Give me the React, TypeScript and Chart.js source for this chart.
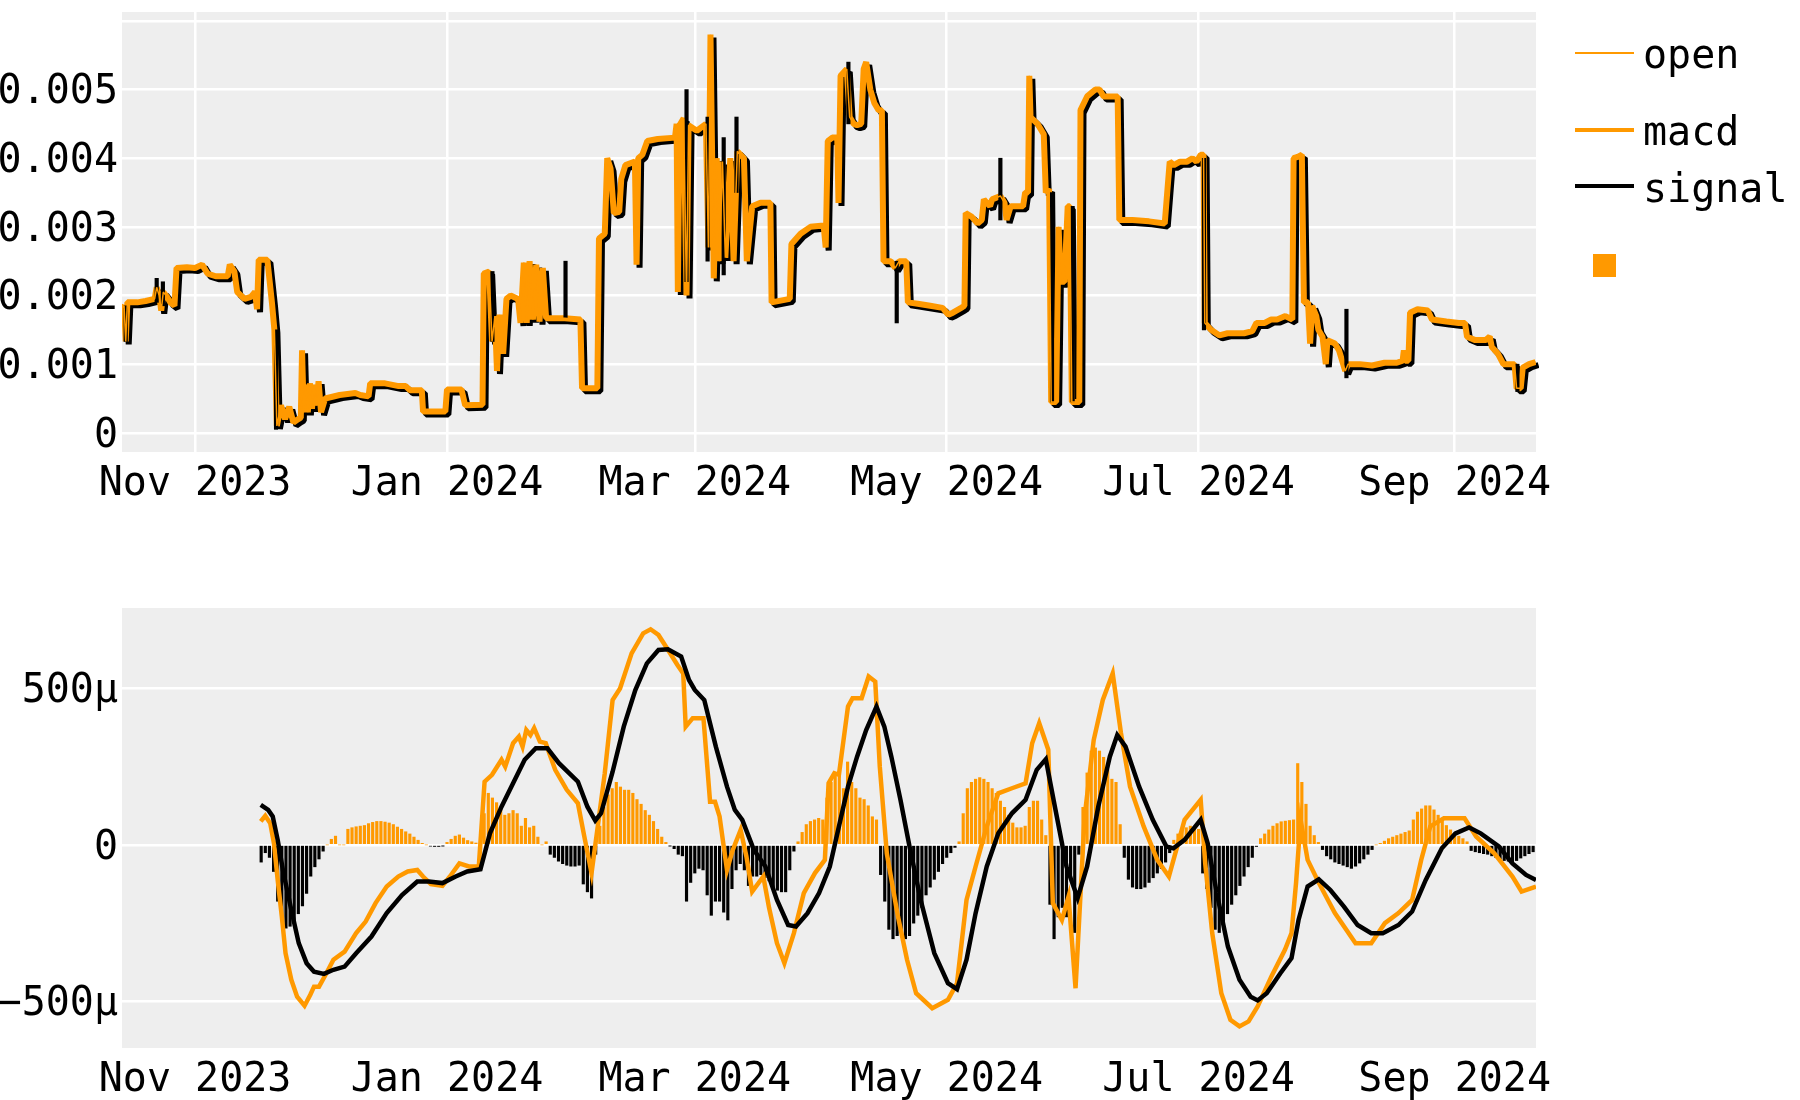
import React, { useEffect, useRef } from 'react';
import { Chart, registerables } from 'chart.js';
Chart.register(...registerables);

const FONT = "'DejaVu Sans Mono', monospace";
const ORANGE = '#ff9900';
const BLACK = '#000000';
const PLOT_BG = '#eeeeee';

// x axis: days since 2023-11-01
const xMin = -17.7;
const xMax = 324.7;
const monthTickDays = [0, 61, 121, 182, 243, 305];
const monthTickLabels = ['Nov 2023', 'Jan 2024', 'Mar 2024', 'May 2024', 'Jul 2024', 'Sep 2024'];

const priceYTicks = [0, 0.001, 0.002, 0.003, 0.004, 0.005, 0.006];
const priceYLabels = ['0', '0.001', '0.002', '0.003', '0.004', '0.005', ''];
const macdYTicks = [-500, 0, 500];
const macdYLabels = ['\u2212500\u00b5', '0', '500\u00b5'];

// ---- top panel: price path (day, value)
const priceDay = [
  -17.7, -17.2, -16.8, -16.4, -14.0, -12.0, -9.8, -9.3, -8.7, -8.2, -7.7, -6.8, -6.0, -5.0, -4.5, -2.0,
  0.0, 1.7, 3.0, 5.0, 7.9, 8.4, 9.5, 10.2, 12.0, 13.5, 14.5, 15.0, 15.4, 17.5, 18.6, 19.2, 19.8, 20.8,
  21.8, 22.8, 23.8, 25.0, 25.6, 25.9, 26.3, 26.8, 27.3, 27.8, 28.3, 28.8, 29.3, 29.9, 30.5, 31.5, 35.0,
  38.8, 40.0, 42.0, 42.4, 46.0, 49.3, 51.0, 52.0, 54.9, 55.2, 60.6, 61.0, 64.5, 65.4, 69.6,
  69.9, 71.2, 71.9, 72.6, 73.1, 73.7, 74.6, 75.4, 76.4, 78.2, 78.8, 79.6, 80.3, 81.0, 81.8, 82.6, 83.4,
  84.2, 85.0, 89.5, 93.3, 93.7, 97.4, 97.8, 99.2, 99.8, 100.6, 101.4, 102.7, 103.2, 104.2, 106.5, 106.9,
  107.3, 108.3, 109.5, 112.0, 116.2, 116.6, 116.9, 117.3, 118.3, 119.0, 119.5, 121.5, 123.7, 124.3,
  124.8, 125.6, 126.3, 127.0, 127.7, 128.4, 129.6, 130.4, 131.3, 132.9, 133.6, 134.9, 136.9, 139.3,
  139.6, 144.0, 144.4, 146.6, 149.0, 152.2, 152.7, 153.2, 154.3,
  155.5, 155.8, 156.3, 157.8, 158.5, 159.5, 160.3, 161.3, 161.9, 162.5, 163.5, 164.5, 165.5, 166.3,
  166.7, 168.5, 169.5, 170.5, 171.5, 172.2, 172.6, 175.0, 178.0, 181.0, 182.4, 183.5, 185.5, 186.3,
  186.6, 188.0, 189.5, 190.5, 191.0, 192.5, 193.0, 195.0, 196.0, 196.5, 197.5, 199.0, 200.5, 201.0,
  201.7, 202.0, 202.3, 204.0, 205.5, 206.0, 206.8, 207.3, 208.5, 209.1, 209.6, 210.5, 211.3, 211.8,
  212.3, 214.1, 214.4, 216.0, 218.0, 219.0, 220.0, 223.4, 223.8, 227.0, 231.0, 234.8, 235.4, 236.0,
  237.0, 238.5, 240.2,
  241.5, 242.5, 243.5, 244.2, 244.5, 246.0, 248.0, 250.0, 254.0, 256.0, 257.0, 259.0, 260.5, 262.0,
  264.0, 265.7, 266.0, 267.0, 268.0, 268.5, 269.5, 270.0, 270.5, 271.5, 272.0, 273.0, 273.8, 274.2,
  276.0, 277.0, 278.5, 279.2, 282.0, 285.0, 288.0, 291.0, 292.4, 292.7, 293.0, 293.8, 294.2, 296.0,
  298.5, 299.5, 303.0, 306.0, 307.5, 308.0, 310.0, 312.5, 313.5, 314.0, 315.5, 316.8, 319.5, 320.0,
  321.0, 321.5, 323.0, 324.6,
];
const priceVal = [
  0.00182, 0.00185, 0.00133, 0.00190, 0.00190, 0.00192, 0.00195, 0.00212, 0.00200, 0.00178, 0.00205, 0.00198, 0.00190, 0.00185, 0.00240, 0.00241,
  0.00240, 0.00245, 0.00232, 0.00228, 0.00228, 0.00245, 0.00235, 0.00205, 0.00195, 0.00198, 0.00205, 0.00180, 0.00252, 0.00252, 0.00190, 0.00150, 0.00010, 0.00040,
  0.00020, 0.00038, 0.00015, 0.00020, 0.00022, 0.00120, 0.00030, 0.00070, 0.00030, 0.00072, 0.00035, 0.00070, 0.00040, 0.00075, 0.00030, 0.00050, 0.00055,
  0.00058, 0.00055, 0.00053, 0.00072, 0.00072, 0.00068, 0.00068, 0.00062, 0.00062, 0.00031, 0.00031, 0.00063, 0.00063, 0.00040, 0.00041,
  0.00232, 0.00235, 0.00133, 0.00170, 0.00090, 0.00172, 0.00115, 0.00195, 0.00200, 0.00195, 0.00160, 0.00248, 0.00160, 0.00250, 0.00165, 0.00245, 0.00162,
  0.00240, 0.00167, 0.00167, 0.00165, 0.00065, 0.00065, 0.00283, 0.00290, 0.00400, 0.00385, 0.00320, 0.00322, 0.00370, 0.00390, 0.00395, 0.00245,
  0.00400, 0.00405, 0.00425, 0.00428, 0.00430, 0.00450, 0.00205, 0.00448, 0.00458, 0.00200, 0.00448, 0.00440, 0.00450, 0.00270,
  0.00580, 0.00225, 0.00400, 0.00250, 0.00395, 0.00255, 0.00400, 0.00250, 0.00410, 0.00400, 0.00250, 0.00330, 0.00335, 0.00335,
  0.00190, 0.00195, 0.00275, 0.00290, 0.00300, 0.00302, 0.00270, 0.00425, 0.00430,
  0.00430, 0.00335, 0.00520, 0.00530, 0.00460, 0.00450, 0.00448, 0.00450, 0.00530, 0.00540, 0.00500, 0.00480, 0.00470, 0.00470,
  0.00250, 0.00250, 0.00240, 0.00250, 0.00250, 0.00250, 0.00190, 0.00188, 0.00185, 0.00182, 0.00172, 0.00175, 0.00182, 0.00185,
  0.00320, 0.00315, 0.00305, 0.00310, 0.00340, 0.00330, 0.00340, 0.00345, 0.00335, 0.00310, 0.00330, 0.00330, 0.00330, 0.00350,
  0.00350, 0.00520, 0.00460, 0.00450, 0.00435, 0.00350, 0.00355, 0.00045, 0.00045, 0.00300, 0.00220, 0.00220, 0.00330, 0.00330,
  0.00045, 0.00045, 0.00470, 0.00490, 0.00500, 0.00500, 0.00490, 0.00490, 0.00310, 0.00310, 0.00308, 0.00305, 0.00350, 0.00395,
  0.00390, 0.00395, 0.00395,
  0.00400, 0.00395, 0.00405, 0.00405, 0.00160, 0.00150, 0.00142, 0.00145, 0.00145, 0.00148, 0.00160, 0.00160, 0.00165, 0.00165,
  0.00170, 0.00165, 0.00400, 0.00402, 0.00405, 0.00190, 0.00190, 0.00130, 0.00185, 0.00170, 0.00150, 0.00140, 0.00100, 0.00135,
  0.00130, 0.00120, 0.00090, 0.00100, 0.00100, 0.00098, 0.00102, 0.00102, 0.00105, 0.00120, 0.00105, 0.00105, 0.00175, 0.00180,
  0.00178, 0.00165, 0.00162, 0.00160, 0.00160, 0.00140, 0.00135, 0.00135, 0.00140, 0.00125, 0.00115, 0.00100, 0.00100, 0.00065,
  0.00065, 0.00095, 0.00100, 0.00103,
];

// black wicks (day, low, high)
const wickDay = [-16.8, -9.3, -7.8, 19.6, 72.0, 89.7, 119.0, 124.1, 128.0, 131.1, 158.2, 169.9, 195.0, 207.5, 212.5, 244.3, 278.8, 320.2];
const wickLow = [0.00133, 0.00190, 0.00185, 0.00005, 0.00133, 0.00167, 0.00220, 0.00250, 0.00230, 0.00350, 0.00450, 0.00160, 0.00310, 0.00045, 0.00045, 0.00150, 0.00080, 0.00060];
const wickHigh = [0.00185, 0.00225, 0.00220, 0.00150, 0.00235, 0.00250, 0.00500, 0.00460, 0.00430, 0.00460, 0.00540, 0.00250, 0.00400, 0.00350, 0.00330, 0.00400, 0.00180, 0.00100];

// ---- bottom panel (values in micro units)
const macdDay = [
  15.9, 17.0, 18.2, 19.1, 20.0, 21.0, 21.9, 23.3, 24.7, 26.5, 27.9, 28.8, 30.0, 31.6, 33.5, 36.2, 39.0, 41.3,
  43.7, 46.4, 49.2, 51.5, 53.8, 55.2, 57.1, 59.9, 61.7, 64.0, 66.3, 68.7, 70.1, 71.9, 74.2, 75.1, 77.0, 78.4,
  79.3, 80.2, 81.2, 82.1, 83.5, 84.9, 87.2, 90.0, 92.7, 94.1, 96.0, 97.4, 99.2, 101.1, 102.9, 105.7, 108.5,
  110.3, 112.2, 114.0, 116.8, 118.2, 118.8, 120.5, 123.1, 124.7, 125.9, 127.0, 128.8, 130.2, 132.1, 133.5,
  134.9, 137.6, 139.0, 140.9, 142.7, 145.0, 147.4, 150.1, 152.5, 153.4, 154.8, 155.9, 158.1, 159.2, 161.4,
  163.1, 164.7, 165.8, 167.5, 170.2, 172.4, 174.6, 178.5, 182.3, 184.5, 186.8, 189.0, 191.7, 194.5, 197.8,
  201.1, 202.7, 204.4, 206.6, 207.7, 209.9, 211.5, 213.2, 215.4, 217.6, 219.8, 222.2, 224.2, 226.4, 229.7,
  233.0, 235.8, 239.6, 243.5, 244.6, 246.3, 248.5, 250.7, 252.9, 255.1, 257.3, 260.6, 263.9, 265.5, 266.6,
  267.7, 269.4, 272.1, 276.0, 281.0, 284.8, 288.1, 291.4, 294.7, 296.9, 299.1, 302.4, 307.4, 310.2, 314.6,
  319.0, 321.2, 324.7,
];
const macdVal = [
  75, 93, 69, 5, -112, -229, -346, -431, -485, -514, -479, -453, -453, -415, -367, -341, -282, -245,
  -186, -133, -101, -85, -80, -101, -125, -131, -101, -59, -69, -69, 202, 224, 272, 250, 325, 346,
  314, 367, 351, 373, 330, 325, 240, 176, 133, 37, -90, 48, 229, 463, 500, 612, 676,
  689, 671, 634, 575, 548, 378, 405, 405, 138, 138, 91, -80, -16, 48, -37,
  -149, -101, -202, -314, -378, -282, -154, -90, -48, 197, 229, 224, 442, 469, 469,
  538, 522, 250, -27, -229, -367, -474, -522, -495, -442, -176, -69, 59, 165, 181,
  197, 325, 389, 304, -186, -240, -165, -458, 91, 335, 463, 548, 357, 186, 59,
  -48, -101, 80, 144, -59, -282, -474, -559, -580, -564, -516, -421, -335, -282, -121,
  80, -48, -121, -218, -314, -314, -250, -218, -176, -48, 59, 85, 85, 27, -27,
  -101, -149, -133,
];
const signalDay = [
  15.9, 17.7, 18.8, 20.0, 21.4, 23.3, 25.1, 27.0, 28.8, 31.2, 33.5, 36.2, 39.0, 42.7, 46.4, 50.1, 53.8, 56.6,
  59.9, 63.1, 65.9, 69.1, 71.4, 74.2, 77.0, 79.8, 82.5, 85.3, 88.1, 92.7, 95.0, 96.9, 98.3, 101.1, 103.8,
  106.6, 109.4, 112.2, 114.5, 117.7, 119.6, 121.0, 123.3, 126.1, 128.8, 130.7, 132.5, 135.3, 138.1, 140.9,
  143.6, 145.5, 148.3, 151.1, 153.7, 155.9, 158.1, 160.3, 162.5, 165.0, 166.9, 168.6, 170.8, 173.0, 175.7,
  179.0, 182.3, 184.5, 186.8, 189.0, 191.7, 194.5, 197.8, 201.1, 203.8, 206.0, 208.2, 211.0, 213.7, 216.0,
  218.7, 221.5, 223.3, 225.3, 228.6, 231.9, 235.2, 236.9, 239.6, 243.5, 245.2, 247.4, 250.1, 252.9, 255.6,
  257.3, 259.5, 262.8, 265.5, 267.2, 269.4, 272.1, 274.9, 278.2, 281.5, 284.8, 287.6, 291.4, 294.7, 298.0,
  301.9, 305.2, 308.5, 311.3, 315.7, 319.0, 322.3, 324.7,
];
const signalVal = [
  128, 112, 91, 16, -90, -208, -314, -378, -405, -412, -399, -389, -346, -293, -218, -160, -117, -117,
  -122, -101, -85, -78, 37, 122, 197, 272, 309, 309, 261, 202, 122, 78, 101, 234, 378,
  495, 580, 623, 625, 602, 527, 495, 463, 314, 186, 112, 80, -16, -69, -176,
  -256, -261, -218, -154, -69, 59, 186, 282, 367, 442, 378, 282, 144, -5, -176,
  -346, -442, -461, -367, -218, -69, 37, 101, 144, 240, 274, 122, -69, -170, -69,
  122, 282, 351, 314, 186, 80, -5, -11, 16, 80, 5, -154, -325, -431, -485,
  -497, -474, -410, -362, -240, -133, -110, -144, -197, -256, -282, -282, -256, -213, -112,
  -11, 37, 56, 37, -5, -59, -96, -112,
];
// daily histogram bars starting at day 16
const histStartDay = 16;
const histVal = [
  -55, -25, -40, -85, -180, -240, -266, -260, -250, -220, -195, -155, -100, -70, -45, -20,
  0, 18, 28, 0, 0,
  50, 55, 58, 60, 62, 68, 72, 75, 75, 73, 70, 65, 57, 50, 42, 35, 25, 15, 5,
  0, -4, -5, -5, -3,
  8, 18, 28, 32, 22, 14, 10, 6, 4,
  100, 165, 150, 135, 120, 95, 100, 110, 100, 60, 85, 55, 60, 25, 0, 10,
  -30, -40, -52, -60, -65, -68, -68, -65, -125, -150, -170, -30,
  60, 120, 160, 180, 200, 185, 175, 175, 165, 145, 130, 110, 95, 75, 50, 25, 8,
  -3, -12, -30, -35, -180, -120, -90, -75, -80, -160, -225, -180, -180, -215, -240, -140, -80, -60, -80, -130,
  -100, -100, -95, -105, -115, -140, -145, -150, -150, -80, -20,
  10, 40, 65, 75, 80, 85, 80, 150,
  200, 230, 225, 180, 265, 200, 180, 150, 145, 125, 90, 80,
  -95, -180, -270, -300, -290, -280, -300, -290, -250, -225, -200, -160, -135, -110, -85, -60, -40, -25, -8,
  10, 100, 180, 200, 210, 215, 210, 200, 180, 165, 140, 120, 95, 70, 55, 55, 60, 120, 140, 140, 80, 30,
  -190, -300, -230, -200, -230, -110, -280, -30,
  120, 230, 300, 310, 300, 280, 240, 210, 200, 65,
  -40, -110, -135, -140, -140, -135, -120, -105, -90, -75, -55, -25,
  15, 35, 50, 55, 60, 55, 50,
  -90, -140, -200, -270, -280, -250, -220, -190, -160, -130, -100, -70, -40, -5,
  20, 35, 48, 60, 68, 74, 76, 78, 80, 260, 200, 130, 60, 30, 8,
  -15, -35, -45, -55, -60, -65, -70, -75, -68, -58, -45, -30, -15,
  0, 5, 12, 20, 25, 30, 35, 40, 45, 80, 105, 115, 125, 125, 112, 95, 80, 62, 48, 38, 28, 20, 10,
  -18, -22, -25, -28, -30, -35, -40, -45, -50, -52, -55, -50, -42, -35, -28, -22,
];

const bgPlugin = {
  id: 'plotBg',
  beforeDraw(chart: any) {
    const { ctx, chartArea: a } = chart;
    ctx.save();
    ctx.fillStyle = PLOT_BG;
    ctx.fillRect(a.left, a.top, a.right - a.left, a.bottom - a.top);
    ctx.restore();
  },
};

const shadowPlugin = {
  id: 'shadowShift',
  beforeDatasetDraw(chart: any, args: any) {
    if (chart.data.datasets[args.index].label === 'shadow') {
      chart.ctx.save();
      chart.ctx.translate(3, 3);
    }
  },
  afterDatasetDraw(chart: any, args: any) {
    if (chart.data.datasets[args.index].label === 'shadow') chart.ctx.restore();
  },
};

const tickFont = { family: FONT, size: 40 };

function xScale(height: number, showGrid: boolean) {
  return {
    type: 'linear',
    min: xMin,
    max: xMax,
    offset: false,
    afterBuildTicks: (s: any) => { s.ticks = monthTickDays.map((v) => ({ value: v })); },
    afterFit: (s: any) => { s.height = height; s.paddingLeft = 0; s.paddingRight = 0; },
    ticks: {
      autoSkip: false, maxRotation: 0, minRotation: 0, padding: 9, color: BLACK, font: tickFont,
      callback: (_v: any, i: number) => monthTickLabels[i],
    },
    grid: { display: showGrid, color: '#ffffff', lineWidth: 2.5, drawTicks: false, offset: false },
    border: { display: false },
  };
}

function yScale(min: number, max: number, ticks: number[], labels: string[]) {
  return {
    type: 'linear',
    min, max,
    afterBuildTicks: (s: any) => { s.ticks = ticks.map((v) => ({ value: v })); },
    afterFit: (s: any) => { s.width = 122; s.paddingTop = 0; s.paddingBottom = 0; },
    ticks: {
      padding: 4, labelOffset: 3.5, color: BLACK, font: tickFont, autoSkip: false,
      callback: (_v: any, i: number) => labels[i],
    },
    grid: { color: '#ffffff', lineWidth: 2.5, drawTicks: false },
    border: { display: false },
  };
}

export default function App() {
  const topRef = useRef<HTMLCanvasElement>(null);
  const botRef = useRef<HTMLCanvasElement>(null);

  useEffect(() => {
    const pricePts = priceDay.map((d, i) => ({ x: d, y: priceVal[i] }));
    const wickPts = wickDay.map((d, i) => ({ x: d, y: [wickLow[i], wickHigh[i]] }));
    const top = new Chart(topRef.current as HTMLCanvasElement, {
      type: 'line',
      data: {
        datasets: [
          { label: 'open', data: pricePts, borderColor: ORANGE, borderWidth: 1.5, pointRadius: 0, order: 0, borderJoinStyle: 'bevel' },
          { label: 'wick', type: 'bar', data: wickPts, backgroundColor: BLACK, barThickness: 3.5, order: 1, grouped: false },
          { label: 'body', data: pricePts, borderColor: ORANGE, borderWidth: 6, pointRadius: 0, order: 2, borderJoinStyle: 'bevel' },
          { label: 'shadow', data: pricePts, borderColor: BLACK, borderWidth: 6, pointRadius: 0, order: 3, borderJoinStyle: 'bevel' },
        ],
      } as any,
      options: {
        responsive: false,
        animation: false,
        devicePixelRatio: 1,
        layout: { padding: { top: 12, right: 264, left: 0, bottom: 0 } },
        plugins: { legend: { display: false }, tooltip: { enabled: false } },
        scales: {
          x: xScale(68, true),
          y: yScale(-0.00028, 0.00613, priceYTicks, priceYLabels),
        },
      } as any,
      plugins: [bgPlugin, shadowPlugin],
    });

    const macdPts = macdDay.map((d, i) => ({ x: d, y: macdVal[i] }));
    const signalPts = signalDay.map((d, i) => ({ x: d, y: signalVal[i] }));
    const histPts = histVal.map((v, i) => ({ x: histStartDay + i, y: v }));
    const bot = new Chart(botRef.current as HTMLCanvasElement, {
      type: 'line',
      data: {
        datasets: [
          { label: 'macd', data: macdPts, borderColor: ORANGE, borderWidth: 4.5, pointRadius: 0, order: 1 },
          { label: 'signal', data: signalPts, borderColor: BLACK, borderWidth: 4.5, pointRadius: 0, order: 0 },
          {
            label: 'hist', type: 'bar', data: histPts, barThickness: 2.5, order: 2, grouped: false,
            backgroundColor: (c: any) => (c.raw && c.raw.y >= 0 ? ORANGE : BLACK),
          },
        ],
      } as any,
      options: {
        responsive: false,
        animation: false,
        devicePixelRatio: 1,
        layout: { padding: { top: 68, right: 264, left: 0, bottom: 0 } },
        plugins: { legend: { display: false }, tooltip: { enabled: false } },
        scales: {
          x: xScale(52, false),
          y: yScale(-649, 757, macdYTicks, macdYLabels),
        },
      } as any,
      plugins: [bgPlugin],
    });

    return () => { top.destroy(); bot.destroy(); };
  }, []);

  const text = (label: string, left: number, top: number) => (
    <div style={{ position: 'absolute', left, top, font: `40px ${FONT}`, lineHeight: '40px', whiteSpace: 'nowrap', color: BLACK }}>{label}</div>
  );

  return (
    <div style={{ position: 'absolute', left: 0, top: 0, width: 1800, height: 1100, background: '#ffffff', overflow: 'hidden' }}>
      <canvas ref={topRef} width={1800} height={520} style={{ position: 'absolute', left: 0, top: 0 }} />
      <canvas ref={botRef} width={1800} height={560} style={{ position: 'absolute', left: 0, top: 540 }} />
      <div style={{ position: 'absolute', left: 1575, top: 52, width: 59, height: 2, background: ORANGE }} />
      {text('open', 1643, 34)}
      <div style={{ position: 'absolute', left: 1575, top: 128, width: 59, height: 4, background: ORANGE }} />
      {text('macd', 1643, 111)}
      <div style={{ position: 'absolute', left: 1575, top: 184, width: 59, height: 4, background: BLACK }} />
      {text('signal', 1643, 168)}
      <div style={{ position: 'absolute', left: 1593, top: 254, width: 23, height: 23, background: ORANGE }} />
    </div>
  );
}
